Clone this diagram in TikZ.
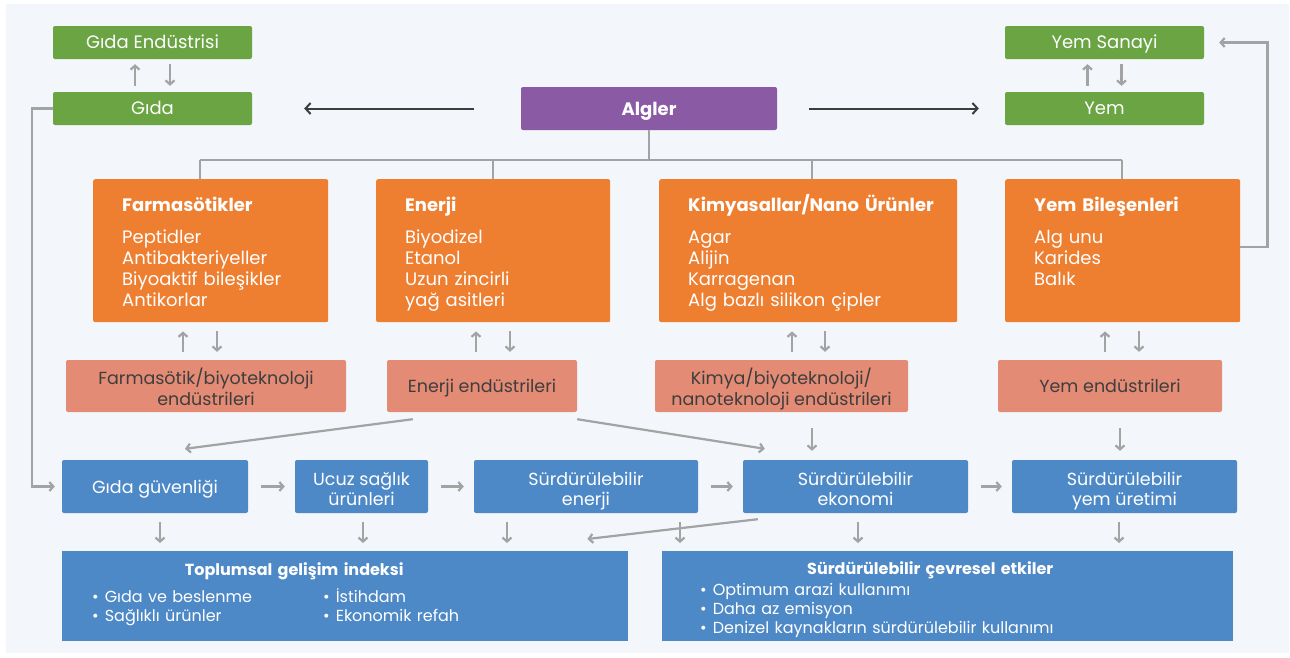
\documentclass[tikz,border=0pt]{standalone}
\usepackage{fontspec}
\setmainfont{Poppins}
\usepackage{xcolor}
\usepackage{tikz}
\usetikzlibrary{arrows.meta}
\usetikzlibrary{calc}

\definecolor{panel}{HTML}{F3F6FB}
\definecolor{leaf}{HTML}{6AA443}
\definecolor{algpurple}{HTML}{8B5AA5}
\definecolor{orangec}{HTML}{EE7E30}
\definecolor{salmonc}{HTML}{E38B74}
\definecolor{saltext}{HTML}{3E3E3E}
\definecolor{bluec}{HTML}{4E89C7}
\definecolor{linegray}{HTML}{A3A3A3}
\definecolor{darkline}{HTML}{3D3D3D}

\tikzstyle{oneline} = [text height=13pt, text depth=0pt]
\tikzstyle{twoline} = [inner ysep=2pt, text height=40pt, text depth=1pt]
\tikzstyle{greenbox} = [fill=leaf, text=white, rounded corners=2pt, minimum width=199pt, minimum height=33pt, text height=13pt, text depth=1pt, font=\fontsize{18}{20}\selectfont]
\tikzstyle{algbox} = [fill=algpurple, text=white, rounded corners=2pt, minimum width=256pt, minimum height=43pt, oneline, font=\bfseries\fontsize{18}{20}\selectfont]
\tikzstyle{orangebox} = [anchor=north west, fill=orangec, text=white, rounded corners=2pt, align=left, inner xsep=29pt, inner ysep=8pt, text height=24pt, text depth=103pt, font=\fontsize{18}{21}\selectfont]
\tikzstyle{salbox} = [fill=salmonc, text=saltext, rounded corners=2pt, align=center, minimum height=52pt, font=\fontsize{17.5}{21}\selectfont]
\tikzstyle{rowbox} = [fill=bluec, text=white, rounded corners=2pt, align=center, minimum height=53pt, font=\fontsize{17.5}{20}\selectfont]
\tikzstyle{bottombox} = [anchor=north west, fill=bluec, text=white, align=left, inner ysep=8pt, font=\fontsize{16}{19}\selectfont]
\tikzstyle{treeline} = [draw=linegray, line width=2.2pt]
\tikzstyle{grayarrow} = [draw=linegray, line width=2.2pt, -{Straight Barb[length=4pt,width=9pt]}]
\tikzstyle{darkarrow} = [draw=darkline, line width=2pt, -{Straight Barb[length=5pt,width=11pt]}]

\begin{document}
\begin{tikzpicture}[x=1pt, y=-1pt]

	\useasboundingbox (0,0) rectangle (1290,657) ;
	\fill[white] (0,0) rectangle (1290,657) ;
	\fill[panel] (6,4) rectangle (1289,653) ;

	% top row
	\node[greenbox] (GE) at (152.5, 42.5) {Gıda Endüstrisi} ;
	\node[greenbox] (Gida) at (152.5, 108.5) {Gıda} ;
	\node[greenbox] (YS) at (1104.5, 42.5) {Yem Sanayi} ;
	\node[greenbox] (Yem) at (1104.5, 108.5) {Yem} ;
	\node[algbox] (Alg) at (649, 108.5) {Algler} ;

	% products
	\node[orangebox, text width=177pt] (Farm) at (93, 179) {\mbox{\bfseries Farmasötikler}\\[11pt]Peptidler\\Antibakteriyeller\\Biyoaktif bileşikler\\Antikorlar} ;
	\node[orangebox, text width=176pt] (Ener) at (376, 179) {\mbox{\bfseries Enerji}\\[11pt]Biyodizel\\Etanol\\Uzun zincirli\\yağ asitleri} ;
	\node[orangebox, text width=240pt] (Kim) at (659, 179) {\mbox{\bfseries Kimyasallar/Nano Ürünler}\\[11pt]Agar\\Alijin\\Karragenan\\Alg bazlı silikon çipler} ;
	\node[orangebox, text width=177pt] (YB) at (1005, 179) {\mbox{\bfseries Yem Bileşenleri}\\[11pt]Alg unu\\Karides\\Balık} ;

	% industries
	\node[salbox, twoline, minimum width=280pt] (S1) at (206, 386) {Farmasötik/biyoteknoloji\\endüstrileri} ;
	\node[salbox, oneline, minimum width=190pt] (S2) at (482, 386) {Enerji endüstrileri} ;
	\node[salbox, twoline, minimum width=253pt] (S3) at (781.5, 386) {Kimya/biyoteknoloji/\\nanoteknoloji endüstrileri} ;
	\node[salbox, oneline, minimum width=224pt] (S4) at (1110, 386) {Yem endüstrileri} ;

	% outcomes
	\node[rowbox, text height=14pt, text depth=0pt, minimum width=186pt] (GG) at (155, 486.5) {Gıda güvenliği} ;
	\node[rowbox, twoline, text height=38pt, minimum width=133pt] (UC) at (361.5, 486.5) {Ucuz sağlık\\ürünleri} ;
	\node[rowbox, twoline, text height=38pt, minimum width=224pt] (SE) at (586, 486.5) {Sürdürülebilir\\enerji} ;
	\node[rowbox, twoline, text height=38pt, minimum width=225pt] (SK) at (855.5, 486.5) {Sürdürülebilir\\ekonomi} ;
	\node[rowbox, twoline, text height=38pt, minimum width=225pt] (SY) at (1124.5, 486.5) {Sürdürülebilir\\yem üretimi} ;

	\node[bottombox, inner xsep=30pt, text width=506pt, text height=16pt, text depth=58pt] (Top) at (62, 551)
		{\makebox[404pt]{\bfseries Toplumsal gelişim indeksi}\\[8pt]\makebox[231pt][l]{\textbullet\hspace{6pt}Gıda ve beslenme}\textbullet\hspace{6pt}İstihdam\\\makebox[231pt][l]{\textbullet\hspace{6pt}Sağlıklı ürünler}\textbullet\hspace{6pt}Ekonomik refah} ;
	\node[bottombox, inner xsep=38pt, text width=495pt, text height=15pt, text depth=59pt] (Cev) at (662, 551)
		{\makebox[460pt]{\bfseries Sürdürülebilir çevresel etkiler}\\[2pt]\textbullet\hspace{6pt}Optimum arazi kullanımı\\\textbullet\hspace{6pt}Daha az emisyon\\\textbullet\hspace{6pt}Denizel kaynakların sürdürülebilir kullanımı} ;

	% tree under Algler
	\coordinate (c1) at (200, 160) ;
	\coordinate (c2) at (493, 160) ;
	\coordinate (c3) at (812, 160) ;
	\coordinate (c4) at (1122, 160) ;
	\draw[treeline] (Alg.south) -- (Alg.south |- c1) ;
	\draw[treeline] (c1) -- (c4) ;
	\draw[treeline] (c1) -- (c1 |- Farm.north) ;
	\draw[treeline] (c2) -- (c2 |- Ener.north) ;
	\draw[treeline] (c3) -- (c3 |- Kim.north) ;
	\draw[treeline] (c4) -- (c4 |- YB.north) ;

	\draw[darkarrow, shorten <=47pt, shorten >=52pt] (Alg) -- (Gida) ;
	\draw[darkarrow, shorten <=32pt, shorten >=26pt] (Alg) -- (Yem) ;

	\draw[grayarrow] ($(Gida.north)+(-17.5,-6)$) -- ($(GE.south)+(-17.5,5)$) ;
	\draw[grayarrow] ($(GE.south)+(17.5,5)$) -- ($(Gida.north)+(17.5,-6)$) ;
	\draw[grayarrow] ($(Yem.north)+(-17,-6)$) -- ($(YS.south)+(-17,5)$) ;
	\draw[grayarrow] ($(YS.south)+(17,5)$) -- ($(Yem.north)+(17,-6)$) ;

	\draw[grayarrow, shorten >=7pt] (Gida.west) -- ++(-21,0) |- (GG.west) ;
	\draw[grayarrow, shorten >=15pt] ($(YB.east)+(0,-4)$) -- ++(27,0) |- (YS.east) ;

	% products <-> industries
	\draw[grayarrow] ($(S1.north -| c1)+(-17,-8)$) -- ($(Farm.south -| c1)+(-17,9)$) ;
	\draw[grayarrow] ($(Farm.south -| c1)+(17,9)$) -- ($(S1.north -| c1)+(17,-8)$) ;
	\draw[grayarrow] ($(S2.north -| c2)+(-17,-8)$) -- ($(Ener.south -| c2)+(-17,9)$) ;
	\draw[grayarrow] ($(Ener.south -| c2)+(17,9)$) -- ($(S2.north -| c2)+(17,-8)$) ;
	\draw[grayarrow] ($(S3.north -| c3)+(-20,-8)$) -- ($(Kim.south -| c3)+(-20,9)$) ;
	\draw[grayarrow] ($(Kim.south -| c3)+(13,9)$) -- ($(S3.north -| c3)+(13,-8)$) ;
	\draw[grayarrow] ($(S4.north -| c4)+(-17,-8)$) -- ($(YB.south -| c4)+(-17,9)$) ;
	\draw[grayarrow] ($(YB.south -| c4)+(17,9)$) -- ($(S4.north -| c4)+(17,-8)$) ;

	% industries -> outcomes
	\draw[grayarrow] ($(S2.south west)+(26,7)$) -- ($(GG.north)+(30,-11)$) ;
	\draw[grayarrow] ($(S2.south east)+(0,7)$) -- ($(SK.north west)+(22,-11)$) ;
	\draw[grayarrow] ($(S3.south -| c3)+(0,16)$) -- ($(SK.north -| c3)+(0,-9)$) ;
	\draw[grayarrow] ($(S4.south -| SY.north)+(-4.5,16)$) -- ($(SY.north)+(-4.5,-9)$) ;

	\draw[grayarrow, shorten <=13pt, shorten >=10pt] (GG) -- (UC) ;
	\draw[grayarrow, shorten <=13pt, shorten >=10pt] (UC) -- (SE) ;
	\draw[grayarrow, shorten <=13pt, shorten >=10pt] (SE) -- (SK) ;
	\draw[grayarrow, shorten <=13pt, shorten >=10pt] (SK) -- (SY) ;

	% outcomes -> indices
	\draw[grayarrow] ($(GG.south)+(5,9)$) -- ($(GG.south |- Top.north)+(5,-8)$) ;
	\draw[grayarrow] ($(UC.south)+(1.5,9)$) -- ($(UC.south |- Top.north)+(1.5,-8)$) ;
	\draw[grayarrow] ($(SE.south)+(-79,9)$) -- ($(SE.south |- Top.north)+(-79,-8)$) ;
	\draw[grayarrow] ($(SE.south)+(94,9)$) -- ($(SE.south |- Cev.north)+(94,-8)$) ;
	\draw[grayarrow] ($(SK.south)+(2.5,9)$) -- ($(SK.south |- Cev.north)+(2.5,-8)$) ;
	\draw[grayarrow] ($(SY.south)+(-5.5,9)$) -- ($(SY.south |- Cev.north)+(-5.5,-8)$) ;
	\draw[grayarrow] ($(SK.south west)+(15,6)$) -- ($(Top.north east)+(-41,-12)$) ;
\end{tikzpicture}
\end{document}
